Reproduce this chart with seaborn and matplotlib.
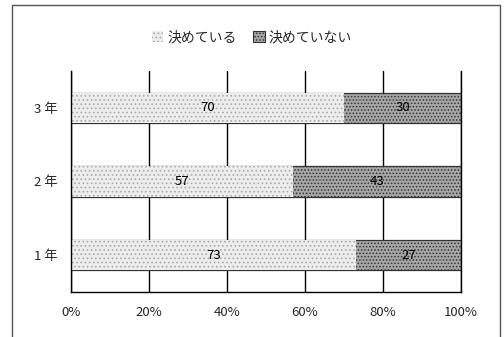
import matplotlib
matplotlib.use("Agg")
import matplotlib.pyplot as plt
import seaborn as sns
import pandas as pd
from matplotlib.patches import Rectangle, Patch

# data
grades = ['3 年', '2 年', '1 年']
decided = [70, 57, 73]        # 決めている
undecided = [30, 43, 27]      # 決めていない
series_names = ['決めている', '決めていない']

sns.set_style('white')
plt.rcParams['font.family'] = ['Noto Sans CJK JP', 'DejaVu Sans']
plt.rcParams['hatch.linewidth'] = 0.7

df = pd.DataFrame({'grade': grades, 'decided': decided, 'undecided': undecided})
df['total'] = df['decided'] + df['undecided']

fig = plt.figure(figsize=(5.04, 3.37), dpi=100)
ax = fig.add_axes([0.141, 0.1335, 0.774, 0.656])

# outer frame like the scanned page
fig.patches.append(Rectangle((12 / 504, -0.02), 488 / 504, 1 - 5 / 337 + 0.02,
                             transform=fig.transFigure, fill=False,
                             edgecolor='#555555', linewidth=1.0))

light_col = '#ededed'
dark_col = '#a6a6a6'

# dark segment underneath (stack total), light segment on top
sns.barplot(data=df, x='total', y='grade', orient='h', ax=ax, color=dark_col,
            width=0.41, saturation=1, edgecolor='#333333', linewidth=0.9,
            hatch='.....')
sns.barplot(data=df, x='decided', y='grade', orient='h', ax=ax, color=light_col,
            width=0.41, saturation=1, edgecolor='#aaaaaa', linewidth=0,
            hatch='....')

for i in range(len(grades)):
    ax.text(decided[i] / 2, i, str(decided[i]), ha='center', va='center',
            fontsize=9.5, color='black')
    ax.text(decided[i] + undecided[i] / 2, i, str(undecided[i]), ha='center',
            va='center', fontsize=9.5, color='black')

ax.set_xlim(0, 100)
ax.set_ylim(2.5, -0.5)
ax.set_xticks([0, 20, 40, 60, 80, 100])
ax.set_xticklabels(['0%', '20%', '40%', '60%', '80%', '100%'], fontsize=9.5)
ax.set_yticks([0, 1, 2])
ax.set_yticklabels(grades, fontsize=9.5)
ax.set_yticks([-0.5, 0.5, 1.5, 2.5], minor=True)
ax.tick_params(axis='y', which='major', length=0, pad=10)
ax.tick_params(axis='y', which='minor', length=4, width=0.8, direction='out', color='black')
ax.tick_params(axis='x', length=3, width=0.8, direction='out', color='black', pad=7)
ax.set_xlabel('')
ax.set_ylabel('')
ax.set_axisbelow(True)
ax.xaxis.grid(True, color='black', linewidth=1.0)
ax.yaxis.grid(False)
ax.spines['top'].set_visible(False)
for side in ['left', 'bottom', 'right']:
    ax.spines[side].set_visible(True)
    ax.spines[side].set_color('black')
    ax.spines[side].set_linewidth(1.0)

handles = [Patch(facecolor=light_col, edgecolor='#aaaaaa', hatch='....', linewidth=0),
           Patch(facecolor=dark_col, edgecolor='#333333', hatch='.....', linewidth=0.8)]
fig.legend(handles, series_names, loc='center', bbox_to_anchor=(0.5, 0.89),
           ncol=2, frameon=False, fontsize=10, handlelength=0.8, handleheight=0.8,
           handletextpad=0.3, columnspacing=1.2)

fig.savefig('out.png', dpi=100)
